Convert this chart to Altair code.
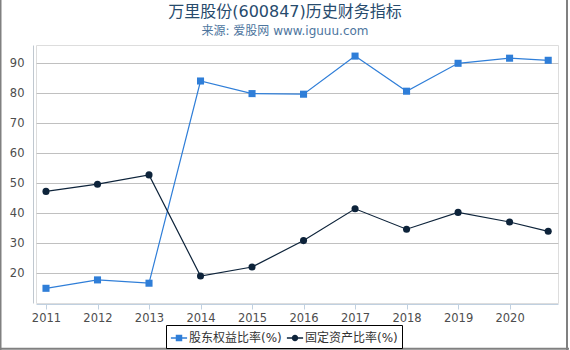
import altair as alt
import pandas as pd

years = [2011, 2012, 2013, 2014, 2015, 2016, 2017, 2018, 2019, 2020, 2020.75]
equity_ratio = [15.0, 17.8, 16.7, 84.1, 79.9, 79.7, 92.4, 80.7, 90.0, 91.7, 91.0]
fixed_asset_ratio = [47.3, 49.7, 52.8, 19.1, 22.1, 30.9, 41.5, 34.7, 40.3, 37.1, 34.0]
series_names = ["股东权益比率(%)", "固定资产比率(%)"]
series_colors = ["#2f7ed8", "#0d233a"]
x_ticks = [2011, 2012, 2013, 2014, 2015, 2016, 2017, 2018, 2019, 2020]
y_ticks = [20, 30, 40, 50, 60, 70, 80, 90]

rows = []
for yr, v in zip(years, equity_ratio):
    rows.append({"year": yr, "value": v, "series": series_names[0]})
for yr, v in zip(years, fixed_asset_ratio):
    rows.append({"year": yr, "value": v, "series": series_names[1]})
df = pd.DataFrame(rows)

FONT = "DejaVu Sans, Noto Sans CJK SC"

x_enc = alt.X(
    "year:Q",
    scale=alt.Scale(domain=[2010.806, 2020.94], nice=False, zero=False),
    axis=alt.Axis(
        title=None, values=x_ticks, format="d", grid=False,
        domainColor="#C0D0E0", tickColor="#C0D0E0", tickSize=5,
        labelColor="#4d4d4d", labelFontSize=11.5, labelPadding=3, offset=1,
        labelFont=FONT,
    ),
)
y_enc = alt.Y(
    "value:Q",
    scale=alt.Scale(domain=[10.1, 96.1], nice=False, zero=False),
    axis=alt.Axis(
        title=None, values=y_ticks, grid=True, gridColor="#C0C0C0",
        domainColor="#C0C8D0", ticks=False, labelPadding=9, offset=3,
        labelColor="#4d4d4d", labelFontSize=11.5, labelFont=FONT,
    ),
)
color_scale = alt.Scale(domain=series_names, range=series_colors)

legend_paths = [
    "M-0.9,-0.07H0.9V0.07H-0.9Z M-0.36,-0.36H0.36V0.36H-0.36Z",
    "M-0.9,-0.07H0.9V0.07H-0.9Z M-0.36,0A0.36,0.36 0 1,1 0.36,0A0.36,0.36 0 1,1 -0.36,0Z",
]

def make_legend():
    return alt.Legend(
        title=None, orient="none", legendX=130, legendY=280, direction="horizontal",
        strokeColor="#000000", fillColor="#ffffff", padding=4, cornerRadius=0,
        symbolSize=324, symbolStrokeWidth=0, labelOffset=1, columnPadding=4,
        labelFontSize=12, labelColor="#333333", labelFont=FONT,
    )

base = alt.Chart(df)

legend_layer = base.transform_filter("false").mark_point(filled=True, opacity=1, size=324).encode(
    x=x_enc, y=y_enc,
    color=alt.Color("series:N", scale=color_scale, sort=series_names, legend=make_legend()),
    shape=alt.Shape("series:N", scale=alt.Scale(domain=series_names, range=legend_paths),
                    sort=series_names, legend=make_legend()),
)

lines = base.mark_line(strokeWidth=1.2).encode(
    x=x_enc, y=y_enc,
    color=alt.Color("series:N", scale=color_scale, sort=series_names, legend=make_legend()),
    detail="series:N",
)

squares = base.transform_filter(alt.datum.series == series_names[0]).mark_square(
    size=50, opacity=1
).encode(x=x_enc, y=y_enc,
         color=alt.Color("series:N", scale=color_scale, sort=series_names, legend=make_legend()))

circles = base.transform_filter(alt.datum.series == series_names[1]).mark_circle(
    size=50, opacity=1
).encode(x=x_enc, y=y_enc,
         color=alt.Color("series:N", scale=color_scale, sort=series_names, legend=make_legend()))

frame_df = pd.DataFrame({"k": [0]})
frame_left = alt.Chart(frame_df).mark_rule(color="#808080", strokeWidth=2).encode(
    x=alt.value(-35.5), y=alt.value(-45), y2=alt.value(306)
)
frame_right = alt.Chart(frame_df).mark_rule(color="#808080", strokeWidth=2).encode(
    x=alt.value(531), y=alt.value(-45), y2=alt.value(306)
)
frame_bottom = alt.Chart(frame_df).mark_rule(color="#808080", strokeWidth=2).encode(
    x=alt.value(-37), x2=alt.value(533), y=alt.value(303.7)
)

chart = alt.layer(
    legend_layer, lines, squares, circles, frame_left, frame_right, frame_bottom
).properties(
    width=522,
    height=258,
    padding={"left": 36, "top": 45, "right": 12, "bottom": 47},
    autosize=alt.AutoSizeParams(type="none"),
    title=alt.TitleParams(
        text="万里股份(600847)历史财务指标",
        subtitle="来源: 爱股网 www.iguuu.com",
        anchor="middle", frame="group", dx=-12, offset=-38,
        font=FONT, fontSize=16, fontWeight="normal", color="#274b6d",
        subtitleFont=FONT, subtitleFontSize=12, subtitleColor="#4d759e",
        subtitlePadding=6,
    ),
).configure_view(stroke=None).configure(background="#ffffff")

chart.save("out.html", embed_options={"renderer": "svg", "actions": False})
